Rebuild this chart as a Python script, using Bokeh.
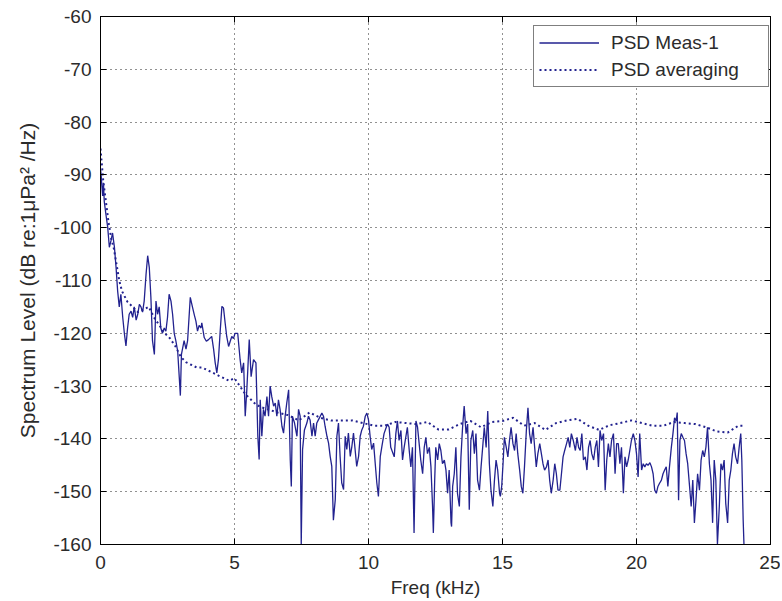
from bokeh.plotting import figure
from bokeh.models import (Range1d, LinearAxis, Legend, LegendItem,
                          FixedTicker, CustomJSTickFormatter)
from bokeh.embed import file_html
from bokeh.resources import INLINE

# ---------------- data ----------------
x_ticks = [0, 5, 10, 15, 20, 25]
y_ticks = [-160, -150, -140, -130, -120, -110, -100, -90, -80, -70, -60]

freq_meas = [
    0.00, 0.02, 0.05, 0.08, 0.11, 0.14, 0.20, 0.27, 0.33, 0.39,
    0.45, 0.52, 0.58, 0.64, 0.70, 0.76, 0.83, 0.89, 0.95, 1.01,
    1.07, 1.14, 1.20, 1.26, 1.33, 1.39, 1.45, 1.51, 1.57, 1.63,
    1.70, 1.76, 1.82, 1.88, 1.94, 2.01, 2.07, 2.13, 2.19, 2.25,
    2.31, 2.38, 2.44, 2.50, 2.56, 2.63, 2.69, 2.75, 2.81, 2.88,
    2.94, 2.98, 3.02, 3.12, 3.19, 3.25, 3.35, 3.43, 3.50, 3.56,
    3.62, 3.68, 3.75,
    3.78, 3.87, 3.95, 4.03, 4.15, 4.22, 4.28, 4.34, 4.40, 4.47,
    4.53, 4.59, 4.65, 4.71, 4.78, 4.84, 4.90, 4.96, 5.02, 5.12,
    5.21, 5.27, 5.34, 5.40, 5.46, 5.55, 5.62, 5.71, 5.80, 5.87,
    5.92, 5.96, 6.02, 6.08, 6.14, 6.21, 6.27, 6.33, 6.39, 6.46,
    6.52, 6.58, 6.64, 6.70, 6.77, 6.83, 6.89, 6.95, 7.02, 7.08,
    7.12, 7.16, 7.24, 7.33, 7.39, 7.45, 7.49, 7.54, 7.61, 7.70,
    7.76, 7.82, 7.89, 7.95, 8.01, 8.07, 8.13, 8.20, 8.26, 8.32,
    8.38, 8.45, 8.51, 8.57, 8.63, 8.69, 8.76, 8.82, 8.88, 8.94,
    9.00, 9.07, 9.13, 9.19, 9.25, 9.32, 9.38, 9.44, 9.50, 9.56,
    9.63, 9.69, 9.75, 9.81, 9.88, 9.94, 10.00, 10.06, 10.12, 10.19,
    10.25, 10.31, 10.37, 10.44,
    10.50, 10.58, 10.65, 10.71, 10.77, 10.83, 10.96, 11.02, 11.08, 11.14,
    11.21, 11.27, 11.33, 11.45, 11.52, 11.58, 11.64, 11.70, 11.77, 11.83,
    11.89, 11.95, 12.02, 12.08, 12.14, 12.20, 12.27, 12.33, 12.39, 12.42,
    12.47, 12.51, 12.58, 12.64, 12.70, 12.76, 12.83, 12.89, 12.95, 13.01,
    13.08, 13.10, 13.14, 13.20, 13.26, 13.32, 13.39, 13.45, 13.51, 13.57,
    13.64, 13.70, 13.76, 13.82, 13.89, 13.95, 14.01, 14.07, 14.14, 14.20,
    14.26, 14.32, 14.39, 14.45, 14.51, 14.57, 14.64, 14.70, 14.76, 14.82,
    14.89, 14.92, 14.97, 15.02, 15.07, 15.14, 15.20, 15.26, 15.32, 15.39,
    15.45, 15.51, 15.57, 15.64, 15.70, 15.76, 15.82, 15.89, 15.95, 16.01,
    16.07, 16.14, 16.20, 16.26, 16.32, 16.39, 16.45, 16.51, 16.57, 16.64,
    16.70, 16.76, 16.82, 16.89, 16.95, 17.01, 17.07, 17.14, 17.20, 17.26,
    17.32, 17.39, 17.45, 17.51, 17.57,
    17.64, 17.72, 17.78, 17.84, 17.90, 17.96, 18.02, 18.09, 18.15, 18.21,
    18.27, 18.33, 18.40, 18.46, 18.52, 18.58, 18.64, 18.70, 18.77, 18.83,
    18.89, 18.95, 19.01, 19.07, 19.14, 19.20, 19.26, 19.32, 19.38, 19.44,
    19.51, 19.57, 19.63, 19.69, 19.75, 19.81, 19.88, 19.94, 20.00, 20.06,
    20.12, 20.19, 20.25, 20.31, 20.37, 20.43, 20.50, 20.56, 20.62, 20.68,
    20.74, 20.80, 20.86, 20.93, 20.99, 21.05, 21.11, 21.17, 21.23, 21.30,
    21.36, 21.42, 21.48, 21.52, 21.57, 21.62, 21.67, 21.73, 21.79, 21.85,
    21.91, 21.98, 22.04, 22.10, 22.16, 22.22, 22.28, 22.35, 22.41, 22.47,
    22.53, 22.59, 22.65, 22.72, 22.78, 22.84, 22.90, 22.96, 23.02, 23.09,
    23.15, 23.21, 23.27, 23.33, 23.40, 23.46, 23.52, 23.58, 23.64, 23.70,
    23.77, 23.83, 23.89, 23.93, 23.98, 24.01,
]

psd_meas = [
    -89.0, -89.8, -92.0, -94.0, -91.5, -95.0, -97.4, -100.0, -103.7, -102.5,
    -101.0, -103.7, -107.5, -112.0, -115.0, -112.6, -117.0, -120.0, -122.4, -119.0,
    -116.4, -115.8, -117.0, -115.0, -117.5, -116.4, -114.5, -115.0, -116.0, -113.9,
    -108.8, -105.3, -107.5, -113.2, -121.4, -124.0, -113.9, -116.4, -115.0, -119.0,
    -120.0, -119.0, -119.6, -117.0, -112.6, -113.9, -116.4, -120.0, -121.4, -123.4,
    -128.4, -131.8, -124.0, -121.4, -123.0, -121.4, -113.2, -115.0, -116.5, -117.7,
    -119.6, -118.5, -119.0,
    -118.0, -120.8, -121.5, -121.2, -120.6, -123.0, -125.6, -127.5, -125.0, -119.3,
    -114.9, -115.2, -118.0, -120.6, -122.5, -121.5, -120.6, -121.0, -120.0, -120.0,
    -125.0, -127.5, -125.6, -135.7, -130.7, -121.2, -128.2, -125.0, -125.6, -139.5,
    -143.9, -132.6, -139.5, -134.4, -135.7, -132.0, -135.7, -130.0, -132.0, -133.8,
    -133.2, -135.7, -132.6, -134.4, -137.6, -138.9, -135.7, -133.2, -130.7, -143.9,
    -149.0, -135.7, -137.0, -139.5, -134.4, -135.7, -160.0, -142.0, -138.3, -137.0,
    -135.7, -136.4, -139.5, -137.0, -139.5, -137.0, -136.4, -135.7, -135.1, -135.7,
    -137.6, -139.5, -140.8, -143.3, -145.2, -155.4, -151.5, -139.5, -137.0, -143.3,
    -148.3, -149.6, -139.5, -142.0, -138.9, -143.3, -141.4, -138.9, -142.0, -145.2,
    -143.3, -139.5, -138.3, -137.6, -135.7, -135.1, -136.4, -139.5, -142.0, -140.8,
    -144.6, -148.3, -150.9, -143.3,
    -141.4, -139.0, -138.0, -137.2, -137.8, -141.6, -143.4, -139.0, -136.6, -140.3,
    -138.4, -144.0, -141.6, -137.8, -142.2, -145.3, -141.6, -157.8, -136.6, -137.8,
    -140.9, -144.0, -146.6, -141.6, -139.7, -142.8, -141.6, -145.3, -152.8, -157.8,
    -147.8, -141.6, -144.0, -140.9, -142.2, -144.7, -144.0, -145.9, -150.3, -145.9,
    -155.9, -156.6, -149.0, -146.6, -141.6, -150.3, -152.8, -143.4, -137.8, -133.8,
    -139.0, -137.2, -153.4, -140.3, -138.4, -142.8, -139.0, -147.8, -149.7, -145.3,
    -141.6, -137.8, -141.6, -134.7, -144.7, -149.7, -152.8, -147.8, -144.0, -145.9,
    -150.3, -150.9, -149.0, -144.7, -139.7, -141.6, -143.4, -140.3, -137.8, -140.9,
    -142.2, -139.0, -142.8, -145.9, -149.0, -150.3, -145.3, -138.4, -134.1, -139.0,
    -140.9, -137.8, -141.6, -145.3, -142.8, -140.9, -142.8, -144.7, -145.9, -145.3,
    -144.0, -147.8, -150.3, -147.8, -144.7, -146.6, -149.7, -149.7, -146.6, -143.4,
    -142.2, -140.9, -139.7, -141.6, -139.0,
    -140.3, -142.2, -139.7, -141.6, -142.2, -139.0, -144.0, -143.4, -145.9, -141.6,
    -140.3, -142.8, -144.0, -141.6, -140.3, -145.3, -138.4, -140.3, -139.0, -149.7,
    -144.0, -140.9, -143.4, -140.3, -139.0, -146.6, -140.9, -140.9, -144.7, -141.6,
    -150.3, -143.4, -145.3, -144.0, -142.2, -140.3, -139.0, -140.3, -142.8, -147.2,
    -139.0, -145.9, -144.7, -145.3, -144.7, -145.0, -144.5, -145.3, -146.6, -149.7,
    -150.3, -149.0, -148.4, -147.8, -146.6, -145.9, -145.3, -149.0, -145.3, -141.6,
    -139.0, -136.0, -136.6, -135.0, -151.6, -140.3, -139.0, -139.7, -140.3, -142.8,
    -144.7, -149.0, -152.8, -147.8, -155.9, -151.6, -146.6, -149.7, -144.0, -142.2,
    -143.4, -141.6, -137.8, -144.7, -147.8, -155.9, -144.0, -147.8, -160.0, -152.8,
    -144.7, -145.9, -144.0, -152.2, -155.9, -147.8, -145.9, -142.8, -140.9, -143.4,
    -144.7, -141.6, -139.0, -144.0, -155.3, -160.0,
]

freq_avg = [
    0.0, 0.1, 0.2, 0.3, 0.4, 0.5, 0.6, 0.7, 0.8, 1.0,
    1.2, 1.4, 1.6, 1.8, 2.0, 2.2, 2.4, 2.6, 2.8, 3.0,
    3.2, 3.4, 3.6, 3.8, 4.0, 4.2, 4.4, 4.6, 4.8, 5.0,
    5.2, 5.4, 5.6, 5.8, 6.0, 6.3, 6.6, 7.0, 7.4, 7.8,
    8.2, 8.6, 9.0, 9.4, 9.8, 10.2, 10.6, 11.0, 11.4, 11.8,
    12.2, 12.6, 13.0, 13.4, 13.8, 14.2, 14.6, 15.0, 15.4, 15.8,
    16.2, 16.6, 17.0, 17.4, 17.8, 18.2, 18.6, 19.0, 19.4, 19.8,
    20.2, 20.6, 21.0, 21.4, 21.8, 22.2, 22.6, 23.0, 23.4, 23.8,
    24.0,
]

psd_avg = [
    -85.0, -91.0, -95.0, -99.0, -102.0, -104.0, -107.0, -110.0, -112.0, -114.0,
    -115.0, -116.0, -115.5, -115.0, -117.0, -118.5, -120.0, -121.0, -122.5, -124.5,
    -125.5, -126.0, -126.5, -126.5, -127.0, -127.5, -128.0, -128.5, -129.0, -128.5,
    -130.0, -131.5, -132.5, -133.5, -134.0, -134.5, -135.0, -135.5, -136.5, -135.0,
    -136.0, -136.5, -136.5, -136.5, -137.0, -137.5, -137.5, -136.8, -137.0, -137.2,
    -136.8, -138.2, -138.2, -137.2, -136.6, -137.8, -136.8, -136.6, -136.0, -137.5,
    -137.0, -138.3, -137.0, -136.5, -136.2, -137.5, -138.3, -137.4, -137.0, -136.5,
    -137.0, -137.5, -137.5, -136.8, -137.0, -137.2, -137.8, -138.6, -138.8, -137.5,
    -137.5,
]

series_labels = ["PSD Meas-1", "PSD averaging"]
x_label = "Freq (kHz)"
y_label = "Spectrum Level (dB re:1\u03bcPa\u00b2 /Hz)"

# ---------------- style ----------------
FONT = "Liberation Sans"
TXT = "#2b2b2b"
BLUE = "#22228f"
FS = "19px"

p = figure(width=780, height=600, output_backend="svg", toolbar_location=None,
           x_range=Range1d(0, 25), y_range=Range1d(-160, -60),
           min_border_left=100, min_border_right=10, min_border_top=16,
           min_border_bottom=55, background_fill_color="white",
           border_fill_color="white", outline_line_color="black")

r1 = p.line(freq_meas, psd_meas, line_color=BLUE, line_width=1.3)
r2 = p.line(freq_avg, psd_avg, line_color=BLUE, line_width=2.0, line_dash="2 3")

for ax in (p.xaxis[0], p.yaxis[0]):
    ax.major_tick_in = 6
    ax.major_tick_out = 0
    ax.minor_tick_line_color = None
    ax.axis_line_color = "black"
    ax.major_tick_line_color = "black"
    ax.major_label_text_font = FONT
    ax.major_label_text_font_size = FS
    ax.major_label_text_color = TXT
    ax.axis_label_text_font = FONT
    ax.axis_label_text_font_style = "normal"
    ax.axis_label_text_color = TXT

p.xaxis[0].ticker = FixedTicker(ticks=x_ticks)
p.yaxis[0].ticker = FixedTicker(ticks=y_ticks)
p.xaxis[0].major_label_overrides = {t: str(t) for t in x_ticks}
p.yaxis[0].major_label_overrides = {t: str(t) for t in y_ticks}
p.xaxis[0].axis_label = x_label
p.xaxis[0].axis_label_text_font_size = FS
p.xaxis[0].major_label_standoff = 11
p.xaxis[0].axis_label_standoff = 5
p.yaxis[0].axis_label = y_label
p.yaxis[0].axis_label_text_font_size = "21px"
p.yaxis[0].major_label_standoff = 9
p.yaxis[0].axis_label_standoff = 11

blank = CustomJSTickFormatter(code="return ''")
top_ax = LinearAxis(ticker=FixedTicker(ticks=x_ticks), formatter=blank,
                    major_tick_in=6, major_tick_out=0, minor_tick_line_color=None,
                    major_label_standoff=0, axis_line_color="black",
                    major_label_text_font_size="1px")
right_ax = LinearAxis(ticker=FixedTicker(ticks=y_ticks), formatter=blank,
                      major_tick_in=6, major_tick_out=0, minor_tick_line_color=None,
                      major_label_standoff=0, axis_line_color="black",
                      major_label_text_font_size="1px")
p.add_layout(top_ax, "above")
p.add_layout(right_ax, "right")

for g, t in ((p.xgrid[0], x_ticks), (p.ygrid[0], y_ticks)):
    g.ticker = FixedTicker(ticks=t)
    g.grid_line_color = "#222222"
    g.grid_line_dash = "1 4"
    g.grid_line_width = 1

legend = Legend(items=[LegendItem(label=series_labels[0], renderers=[r1]),
                       LegendItem(label=series_labels[1], renderers=[r2])],
                location=(433, 457), orientation="vertical",
                label_text_font=FONT, label_text_font_size=FS,
                label_text_color=TXT, glyph_width=60, glyph_height=23,
                label_height=23, label_width=152, label_standoff=12,
                padding=5, spacing=4, margin=0,
                border_line_color="black", border_line_width=1,
                background_fill_color="white", background_fill_alpha=1.0)
p.add_layout(legend)

open("out.html", "w").write(file_html(p, INLINE))
